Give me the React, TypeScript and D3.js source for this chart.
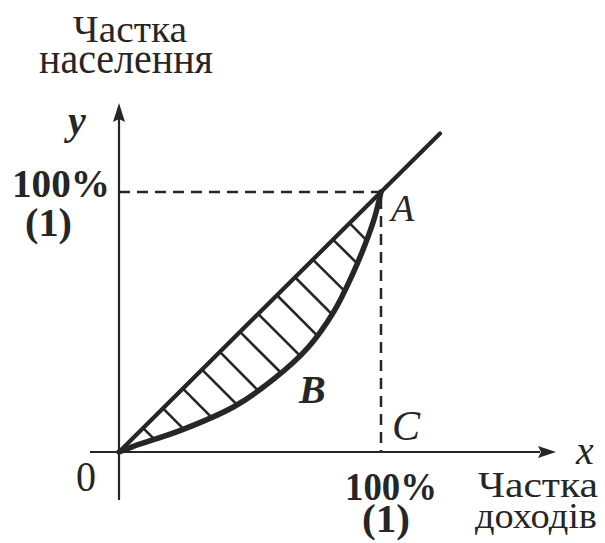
import React, { useEffect, useRef } from "react";
import * as d3 from "d3";

// Lorenz curve (share of income x, share of population y), unit = 100%
const lorenzX = [0, 0.05, 0.24, 0.44, 0.59, 0.72, 0.82, 0.89, 0.94, 0.975, 1];
const lorenzY = [0, 0.02, 0.085, 0.175, 0.28, 0.4, 0.54, 0.68, 0.8, 0.9, 1];
// positions along the diagonal where hatch strokes start
const hatchT = [0.092, 0.168, 0.244, 0.317, 0.385, 0.462, 0.531, 0.603, 0.672, 0.74, 0.817, 0.88];
const diagonalEnd = 1.225;
const yTitle = ["Частка", "населення"];
const xTitle = ["Частка", "доходів"];
const tickMain = "100%";
const tickUnit = "(1)";

const W = 605;
const H = 543;
const INK = "#262626";

export default function App() {
  const ref = useRef<SVGSVGElement | null>(null);

  useEffect(() => {
    const svg = d3.select(ref.current);
    svg.selectAll("*").remove();

    const x = d3.scaleLinear().domain([0, 1]).range([119, 381]);
    const y = d3.scaleLinear().domain([0, 1]).range([452, 192]);

    const serif = "'Liberation Serif', 'DejaVu Serif', serif";

    // axes
    svg.append("line").attr("x1", 90).attr("x2", 540).attr("y1", y(0)).attr("y2", y(0))
      .attr("stroke", INK).attr("stroke-width", 2.2);
    svg.append("path").attr("d", `M556,${y(0)} L538,${y(0) - 6} L541,${y(0)} L538,${y(0) + 6} Z`).attr("fill", INK);
    svg.append("line").attr("x1", x(0)).attr("x2", x(0)).attr("y1", 500).attr("y2", 118)
      .attr("stroke", INK).attr("stroke-width", 2.2);
    svg.append("path").attr("d", `M${x(0)},103 L${x(0) - 6},122 L${x(0)},119 L${x(0) + 6},122 Z`).attr("fill", INK);

    // dashed guides
    svg.append("line").attr("x1", x(0)).attr("x2", x(1)).attr("y1", y(1)).attr("y2", y(1))
      .attr("stroke", INK).attr("stroke-width", 2.5).attr("stroke-dasharray", "11,7");
    svg.append("line").attr("x1", x(1)).attr("x2", x(1)).attr("y1", y(1)).attr("y2", y(0))
      .attr("stroke", INK).attr("stroke-width", 2.5).attr("stroke-dasharray", "11,7").attr("stroke-dashoffset", -6);

    // Lorenz curve
    const pts: [number, number][] = lorenzX.map((v, i) => [x(v), y(lorenzY[i])]);
    const line = d3.line().curve(d3.curveCatmullRom.alpha(0.5));
    const curve = svg.append("path").attr("d", line(pts) || "").attr("fill", "none")
      .attr("stroke", INK).attr("stroke-width", 5.5).attr("stroke-linecap", "round");

    // sample curve to find hatch ends
    const node = curve.node() as SVGPathElement;
    const total = node.getTotalLength();
    const samples: { x: number; y: number }[] = [];
    for (let i = 0; i <= 800; i++) {
      const p = node.getPointAtLength((total * i) / 800);
      samples.push({ x: p.x, y: p.y });
    }
    hatchT.forEach((t) => {
      const sx = x(t);
      const sy = y(t);
      const c = sx - sy;
      let best = samples[0];
      let bd = Infinity;
      for (const s of samples) {
        const d = Math.abs(s.x - s.y - c);
        if (d < bd && s.x > sx) {
          bd = d;
          best = s;
        }
      }
      svg.append("line").attr("x1", sx).attr("y1", sy).attr("x2", best.x).attr("y2", best.y)
        .attr("stroke", INK).attr("stroke-width", 2.6);
    });

    // diagonal (line of equality)
    svg.append("line").attr("x1", x(0)).attr("y1", y(0)).attr("x2", x(diagonalEnd)).attr("y2", y(diagonalEnd))
      .attr("stroke", INK).attr("stroke-width", 4.2).attr("stroke-linecap", "round");

    const text = (s: string, tx: number, ty: number, size: number, opts: any = {}) => {
      const t = svg.append("text").attr("x", tx).attr("y", ty).text(s)
        .attr("font-family", serif).attr("font-size", size).attr("fill", INK)
        .attr("font-weight", opts.weight || "normal").attr("font-style", opts.style || "normal");
      if (opts.len) t.attr("textLength", opts.len).attr("lengthAdjust", "spacingAndGlyphs");
      return t;
    };

    // two-line labels as single text elements with tspans
    const block = (lines: { s: string; x: number; y: number; size: number; len: number; weight?: string }[]) => {
      const t = svg.append("text").attr("font-family", serif).attr("fill", INK);
      lines.forEach((l) => {
        t.append("tspan").attr("x", l.x).attr("y", l.y).attr("font-size", l.size)
          .attr("font-weight", l.weight || "normal")
          .attr("textLength", l.len).attr("lengthAdjust", "spacingAndGlyphs").text(l.s);
      });
    };

    block([
      { s: yTitle[0], x: 73, y: 42, size: 38, len: 114 },
      { s: yTitle[1], x: 39, y: 73, size: 44, len: 174 },
    ]);
    block([
      { s: xTitle[0], x: 478, y: 497, size: 35, len: 120 },
      { s: xTitle[1], x: 475, y: 528, size: 36, len: 122 },
    ]);
    block([
      { s: tickMain, x: 12, y: 197, size: 40, len: 98, weight: "bold" },
      { s: tickUnit, x: 25, y: 236, size: 40, len: 47, weight: "bold" },
    ]);
    block([
      { s: tickMain, x: 345, y: 500, size: 40, len: 92, weight: "bold" },
      { s: tickUnit, x: 362, y: 532, size: 40, len: 48, weight: "bold" },
    ]);
    text("0", 76, 491, 42, { len: 20 });

    // letters
    text("y", 68, 134, 40, { style: "italic", weight: "bold" });
    text("x", 576, 464, 40, { style: "italic" });
    text("A", 391, 221, 38, { style: "italic" });
    text("B", 299, 403, 40, { style: "italic", weight: "bold" });
    text("C", 392, 440, 42, { style: "italic" });
  }, []);

  return (
    <svg ref={ref} width={W} height={H} style={{ position: "absolute", left: 0, top: 0, background: "#fff" }} />
  );
}
